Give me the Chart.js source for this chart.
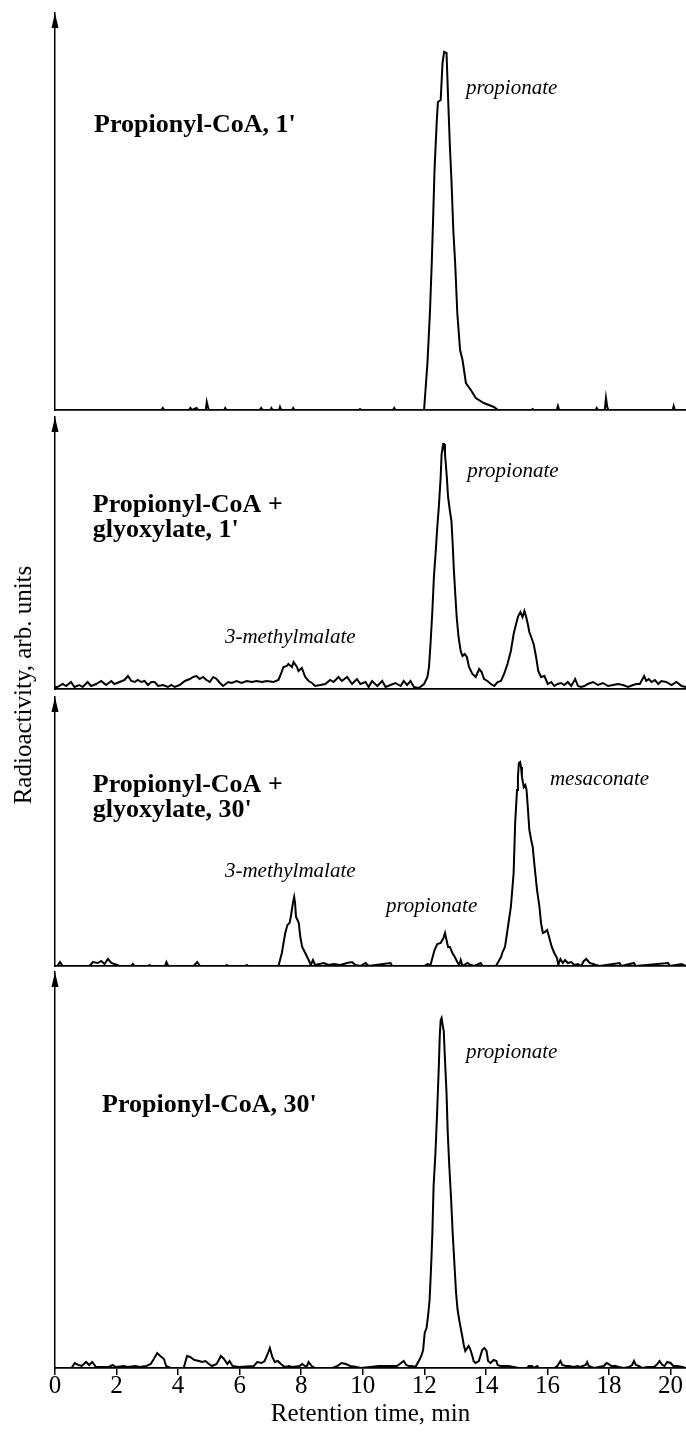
<!DOCTYPE html>
<html>
<head>
<meta charset="utf-8">
<script src="https://cdn.jsdelivr.net/npm/chart.js@4.4.1/dist/chart.umd.min.js"></script>
<style>
  html, body { margin: 0; padding: 0; background: #fff; }
  #figure { position: relative; width: 686px; height: 1433px; overflow: hidden; background: #fff; }
  #figure canvas { position: absolute; left: 0; }
  #yTitle {
    position: absolute; left: -128px; top: 672px; width: 300px; height: 26px;
    line-height: 26px; text-align: center; white-space: nowrap; color: #000;
    font: 25px 'Liberation Serif', serif; transform: rotate(-90deg);
  }
</style>
</head>
<body>
<div id="figure">
  <canvas id="panel1" width="686" height="412" style="top:0px"></canvas>
  <canvas id="panel2" width="686" height="280" style="top:412px"></canvas>
  <canvas id="panel3" width="686" height="276" style="top:692px"></canvas>
  <canvas id="panel4" width="686" height="465" style="top:968px"></canvas>
  <div id="yTitle">Radioactivity, arb. units</div>
</div>
<script>
// Radio-HPLC traces, retention time (min) vs radioactivity (arb. units)

// Panel 1: Propionyl-CoA, 1'
const p1Time = [
  0, 3.45, 3.5, 3.55, 4.35, 4.4, 4.45, 4.6, 4.65, 4.9,
  4.93, 4.97, 5.0, 5.5, 5.53, 5.57, 6.65, 6.7, 6.75, 7.0,
  7.03, 7.07, 7.28, 7.31, 7.35, 7.7, 7.74, 7.78, 9.88, 9.91,
  9.95, 10.98, 11.02, 11.06, 11.99, 12.10, 12.18, 12.24, 12.29, 12.33,
  12.40, 12.44, 12.53, 12.59, 12.64, 12.72, 12.77, 12.83, 12.88, 12.94,
  13.00, 13.07, 13.16, 13.24, 13.35, 13.51, 13.67, 13.93, 14.26, 14.39,
  15.48, 15.52, 15.56, 16.30, 16.34, 16.38, 17.57, 17.60, 17.64, 17.86,
  17.90, 17.94, 17.98, 20.07, 20.10, 20.14, 20.5
];
const p1Signal = [
  0, 0, 2, 0, 0, 2, 0, 2, 0, 0,
  8, 3, 0, 0, 2, 0, 0, 2, 0, 0,
  2, 0, 0, 3, 0, 0, 2, 0, 0, 1,
  0, 0, 2, 0, 0, 47, 97, 147, 197, 240,
  287, 308, 310, 347, 358, 357, 313, 263, 230, 180,
  147, 97, 60, 50, 27, 20, 12, 7, 3, 0,
  0, 1, 0, 0, 4, 0, 0, 2, 0, 0,
  12, 3, 0, 0, 4, 0, 0
];

// Panel 2: Propionyl-CoA + glyoxylate, 1'
const p2Time = [
  0, 0.08, 0.25, 0.36, 0.52, 0.63, 0.79, 0.90, 1.06, 1.17,
  1.34, 1.50, 1.66, 1.83, 1.93, 2.10, 2.26, 2.37, 2.48, 2.59,
  2.69, 2.80, 2.91, 3.02, 3.13, 3.24, 3.35, 3.51, 3.67, 3.78,
  3.89, 4.05, 4.22, 4.38, 4.49, 4.60, 4.70, 4.81, 4.92, 5.03,
  5.14, 5.25, 5.36, 5.46, 5.63, 5.74, 5.90, 6.06, 6.23, 6.39,
  6.55, 6.72, 6.88, 7.10, 7.26, 7.34, 7.42, 7.53, 7.58, 7.70,
  7.75, 7.86, 7.91, 8.02, 8.13, 8.24, 8.35, 8.45, 8.62, 8.78,
  8.94, 9.05, 9.21, 9.32, 9.49, 9.65, 9.81, 9.92, 10.09, 10.19,
  10.30, 10.47, 10.63, 10.74, 10.90, 11.06, 11.23, 11.33, 11.44, 11.55,
  11.66, 11.82, 11.99, 12.10, 12.15, 12.20, 12.26, 12.31, 12.37, 12.42,
  12.47, 12.53, 12.56, 12.61, 12.64, 12.67, 12.73, 12.77, 12.83, 12.88,
  12.92, 12.96, 13.01, 13.05, 13.11, 13.18, 13.24, 13.31, 13.38, 13.45,
  13.56, 13.67, 13.78, 13.86, 13.94, 14.05, 14.16, 14.27, 14.38, 14.49,
  14.59, 14.70, 14.81, 14.90, 14.98, 15.05, 15.12, 15.19, 15.25, 15.30,
  15.36, 15.41, 15.47, 15.55, 15.63, 15.70, 15.79, 15.90, 16.01, 16.12,
  16.22, 16.33, 16.44, 16.55, 16.66, 16.77, 16.90, 16.99, 17.09, 17.20,
  17.31, 17.48, 17.64, 17.80, 17.97, 18.13, 18.29, 18.45, 18.62, 18.78,
  18.89, 19.00, 19.14, 19.21, 19.29, 19.38, 19.49, 19.60, 19.70, 19.86,
  20.03, 20.19, 20.36, 20.5
];
const p2Signal = [
  2, 2, 5, 3, 7, 2, 4, 2, 7, 3,
  5, 8, 4, 8, 5, 7, 9, 13, 8, 7,
  9, 7, 8, 4, 7, 7, 3, 4, 2, 4,
  2, 4, 8, 10, 12, 13, 10, 12, 9, 7,
  12, 10, 6, 3, 7, 6, 8, 6, 8, 7,
  8, 7, 8, 7, 9, 15, 22, 23, 25, 22,
  27, 22, 18, 21, 12, 8, 6, 3, 4, 5,
  9, 7, 12, 8, 12, 5, 10, 5, 7, 2,
  8, 3, 8, 2, 4, 6, 3, 8, 4, 8,
  2, 1, 5, 12, 22, 45, 78, 112, 138, 162,
  182, 212, 235, 245, 245, 235, 212, 192, 178, 168,
  145, 118, 92, 72, 52, 38, 33, 35, 32, 22,
  15, 12, 20, 17, 10, 8, 5, 3, 7, 8,
  15, 25, 38, 55, 65, 73, 77, 72, 78, 73,
  65, 57, 52, 45, 32, 18, 12, 13, 5, 7,
  3, 5, 6, 4, 7, 3, 10, 3, 2, 3,
  5, 7, 4, 6, 3, 4, 5, 4, 2, 4,
  5, 5, 13, 8, 10, 7, 9, 5, 8, 7,
  4, 7, 3, 2
];

// Panel 3: Propionyl-CoA + glyoxylate, 30'
const p3Time = [
  0, 0.08, 0.16, 0.25, 1.12, 1.23, 1.39, 1.50, 1.61, 1.72,
  1.83, 1.93, 2.10, 2.48, 2.53, 2.58, 3.02, 3.07, 3.12, 3.57,
  3.62, 3.68, 4.50, 4.62, 4.71, 5.53, 5.58, 5.63, 6.18, 6.23,
  6.28, 7.26, 7.37, 7.48, 7.55, 7.62, 7.66, 7.73, 7.77, 7.80,
  7.83, 7.88, 7.92, 7.97, 8.03, 8.13, 8.24, 8.31, 8.38, 8.45,
  8.73, 8.89, 9.05, 9.27, 9.49, 9.65, 9.76, 9.92, 10.09, 10.19,
  10.41, 10.90, 10.96, 11.99, 12.10, 12.20, 12.26, 12.33, 12.42, 12.53,
  12.62, 12.67, 12.72, 12.77, 12.83, 12.91, 12.99, 13.07, 13.13, 13.18,
  13.24, 13.40, 13.51, 13.62, 13.83, 13.89, 14.32, 14.40, 14.49, 14.54,
  14.62, 14.70, 14.81, 14.90, 14.95, 15.01, 15.04, 15.07, 15.11, 15.14,
  15.17, 15.23, 15.28, 15.32, 15.36, 15.41, 15.47, 15.52, 15.57, 15.66,
  15.74, 15.79, 15.85, 15.92, 15.99, 16.06, 16.14, 16.22, 16.31, 16.35,
  16.42, 16.50, 16.57, 16.66, 16.77, 16.88, 16.99, 17.09, 17.18, 17.26,
  17.37, 17.48, 17.58, 17.69, 18.34, 18.40, 18.81, 18.86, 19.92, 19.97,
  20.36, 20.5
];
const p3Signal = [
  0, 0, 4, 0, 0, 4, 3, 5, 2, 7,
  3, 2, 0, 0, 2, 0, 0, 1, 0, 0,
  4, 0, 0, 4, 0, 0, 1, 0, 0, 1,
  0, 0, 13, 33, 41, 43, 49, 63, 69, 63,
  49, 46, 43, 29, 19, 13, 6, 1, 6, 1,
  3, 1, 2, 1, 3, 4, 1, 0, 3, 0,
  1, 3, 0, 0, 2, 1, 8, 16, 22, 23,
  28, 33, 26, 19, 19, 13, 9, 4, 1, 6,
  0, 3, 1, 0, 3, 0, 0, 4, 9, 14,
  19, 36, 59, 93, 143, 176, 189, 203, 204, 199,
  189, 179, 181, 176, 159, 136, 126, 119, 103, 76,
  59, 43, 33, 34, 36, 28, 19, 13, 8, 1,
  7, 3, 6, 3, 4, 1, 2, 0, 5, 7,
  3, 2, 1, 0, 3, 0, 3, 0, 3, 0,
  2, 0
];

// Panel 4: Propionyl-CoA, 30'
const p4Time = [
  0, 0.54, 0.64, 0.76, 0.87, 1.01, 1.11, 1.21, 1.33, 1.75,
  1.87, 1.97, 2.25, 2.35, 2.61, 2.75, 2.97, 3.11, 3.21, 3.32,
  3.42, 3.54, 3.61, 3.75, 4.18, 4.29, 4.39, 4.53, 4.68, 4.78,
  4.89, 5.00, 5.10, 5.25, 5.39, 5.49, 5.60, 5.67, 5.77, 5.96,
  6.46, 6.57, 6.71, 6.81, 6.91, 6.98, 7.06, 7.14, 7.24, 7.34,
  7.46, 7.60, 7.71, 7.95, 8.03, 8.17, 8.24, 8.34, 8.45, 9.02,
  9.17, 9.31, 9.45, 9.59, 9.81, 9.92, 10.24, 10.51, 11.11, 11.20,
  11.33, 11.41, 11.49, 11.60, 11.71, 11.82, 11.90, 11.96, 12.01, 12.07,
  12.12, 12.17, 12.22, 12.26, 12.30, 12.36, 12.41, 12.47, 12.50, 12.53,
  12.56, 12.60, 12.63, 12.67, 12.72, 12.76, 12.81, 12.87, 12.92, 12.98,
  13.03, 13.08, 13.15, 13.23, 13.28, 13.33, 13.39, 13.44, 13.50, 13.55,
  13.60, 13.66, 13.77, 13.88, 13.95, 14.02, 14.07, 14.15, 14.25, 14.34,
  14.38, 14.47, 14.58, 14.74, 14.90, 15.07, 15.34, 15.39, 15.50, 15.55,
  15.67, 15.72, 16.21, 16.32, 16.42, 16.48, 16.59, 16.69, 16.86, 16.97,
  17.07, 17.24, 17.29, 17.34, 17.51, 17.83, 17.92, 17.99, 18.07, 18.21,
  18.32, 18.48, 18.64, 18.75, 18.81, 18.87, 18.97, 19.08, 19.24, 19.46,
  19.57, 19.64, 19.73, 19.80, 19.89, 20.00, 20.09, 20.22, 20.38, 20.5
];
const p4Signal = [
  0, 0, 5, 3, 2, 6, 3, 6, 1, 1,
  3, 1, 2, 1, 2, 1, 2, 4, 9, 15,
  12, 9, 2, 0, 0, 12, 11, 8, 7, 6,
  7, 4, 2, 4, 12, 9, 4, 7, 2, 1,
  2, 6, 5, 7, 14, 20, 11, 6, 7, 4,
  1, 2, 1, 2, 4, 1, 6, 2, 0, 0,
  2, 5, 4, 2, 1, 0, 1, 2, 2, 4,
  7, 3, 2, 2, 1, 7, 12, 18, 35, 40,
  52, 68, 102, 135, 182, 215, 252, 302, 332, 348,
  350, 342, 337, 308, 275, 235, 202, 168, 135, 102,
  75, 58, 45, 32, 23, 17, 20, 22, 18, 13,
  7, 5, 7, 18, 20, 17, 7, 5, 8, 7,
  3, 2, 2, 2, 1, 0, 0, 2, 2, 0,
  2, 0, 0, 2, 7, 3, 2, 2, 1, 2,
  1, 3, 6, 2, 0, 2, 5, 4, 2, 2,
  1, 0, 1, 3, 7, 3, 2, 0, 1, 1,
  4, 7, 3, 2, 6, 5, 2, 2, 1, 0
];

// x-axis ticks (min)
const timeTicks = [0, 2, 4, 6, 8, 10, 12, 14, 16, 18, 20];
const timeMax = 20.5;

const SERIF = "'Liberation Serif', 'Times New Roman', serif";
Chart.defaults.font.family = SERIF;
Chart.defaults.color = '#000';

// Text labels placed in data coordinates of each panel
const notesPlugin = {
  id: 'notes',
  afterDatasetsDraw(chart, args, opts) {
    const { ctx, scales: { x, y } } = chart;
    ctx.save();
    ctx.fillStyle = '#000';
    ctx.textBaseline = 'alphabetic';
    ctx.textAlign = 'left';
    (opts.items || []).forEach(n => {
      ctx.font = n.bold ? `bold 26px ${SERIF}` : `italic 21px ${SERIF}`;
      let py = y.getPixelForValue(n.v);
      const px = x.getPixelForValue(n.t);
      n.lines.forEach(line => {
        ctx.fillText(line, px, py);
        py += 25;
      });
    });
    ctx.restore();
  }
};

// Arrowhead on top of every y axis
const arrowPlugin = {
  id: 'yArrow',
  afterDraw(chart) {
    const { ctx, chartArea: { left, top } } = chart;
    ctx.save();
    ctx.fillStyle = '#000';
    ctx.beginPath();
    ctx.moveTo(left, top);
    ctx.lineTo(left - 3.5, top + 15);
    ctx.lineTo(left + 3.5, top + 15);
    ctx.closePath();
    ctx.fill();
    ctx.restore();
  }
};

function baselineAxis() {
  return {
    type: 'linear', min: 0, max: timeMax,
    ticks: { display: false },
    grid: { display: false },
    border: { display: true, color: '#000', width: 1.7 },
    afterFit: s => { s.height = 0; }
  };
}

function timeAxis() {
  return {
    type: 'linear', min: 0, max: timeMax,
    afterBuildTicks: s => { s.ticks = timeTicks.map(v => ({ value: v })); },
    ticks: {
      color: '#000', padding: -1, maxRotation: 0, autoSkip: false,
      font: { family: SERIF, size: 25, lineHeight: 1 }
    },
    grid: { display: true, drawOnChartArea: false, drawTicks: true, tickLength: 7, color: '#000', lineWidth: 1.5 },
    border: { display: true, color: '#000', width: 1.7 },
    title: {
      display: true, text: 'Retention time, min', color: '#000',
      font: { family: SERIF, size: 25, lineHeight: 1 },
      padding: { top: 0, bottom: 6 }
    },
    afterFit: s => { s.height = 65; }
  };
}

function makePanel(id, time, signal, yMax, pad, notes, isBottom) {
  const points = time.map((t, i) => ({ x: t, y: signal[i] }));
  return new Chart(document.getElementById(id), {
    type: 'line',
    data: {
      datasets: [{
        data: points,
        borderColor: '#000',
        borderWidth: 2,
        pointRadius: 0,
        tension: 0,
        fill: false
      }]
    },
    options: {
      responsive: false,
      animation: false,
      events: [],
      layout: { padding: { left: 55, right: 0, top: pad[0], bottom: pad[1] } },
      plugins: {
        legend: { display: false },
        tooltip: { enabled: false },
        notes: { items: notes }
      },
      scales: {
        x: isBottom ? timeAxis() : baselineAxis(),
        y: {
          type: 'linear', min: 0, max: yMax,
          ticks: { display: false },
          grid: { display: false },
          border: { display: true, color: '#000', width: 1.5 },
          afterFit: s => { s.width = 0; }
        }
      }
    },
    plugins: [notesPlugin, arrowPlugin]
  });
}

makePanel('panel1', p1Time, p1Signal, 397, [13, 2], [
  { lines: ["Propionyl-CoA, 1'"], t: 1.27, v: 278, bold: true },
  { lines: ['propionate'], t: 13.35, v: 316 }
], false);

makePanel('panel2', p2Time, p2Signal, 272, [5, 3], [
  { lines: ['Propionyl-CoA +', "glyoxylate, 1'"], t: 1.23, v: 177, bold: true },
  { lines: ['propionate'], t: 13.39, v: 212 },
  { lines: ['3-methylmalate'], t: 5.52, v: 46 }
], false);

makePanel('panel3', p3Time, p3Signal, 269, [5, 2], [
  { lines: ['Propionyl-CoA +', "glyoxylate, 30'"], t: 1.23, v: 174, bold: true },
  { lines: ['3-methylmalate'], t: 5.52, v: 89 },
  { lines: ['propionate'], t: 10.75, v: 54 },
  { lines: ['mesaconate'], t: 16.08, v: 181 }
], false);

makePanel('panel4', p4Time, p4Signal, 396, [4, 0], [
  { lines: ["Propionyl-CoA, 30'"], t: 1.53, v: 256, bold: true },
  { lines: ['propionate'], t: 13.35, v: 310 }
], true);
</script>
</body>
</html>
